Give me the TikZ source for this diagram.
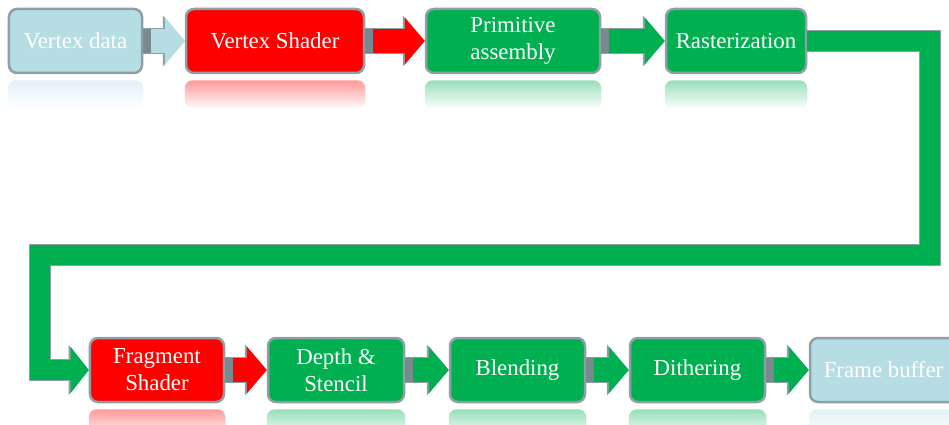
\documentclass[tikz,border=0pt]{standalone}
\usepackage{fontspec}
\setmainfont{Liberation Serif}
\usetikzlibrary{arrows.meta,fadings,positioning}

\definecolor{lblue}{RGB}{183,221,228}
\definecolor{pgreen}{RGB}{0,176,80}
\definecolor{pred}{RGB}{255,0,0}
\definecolor{edge}{RGB}{140,160,165}
\definecolor{shadowgray}{RGB}{120,138,142}

\tikzset{
stage/.style = {draw=edge, line width=0.5mm, rounded corners=1.6mm, text=white, align=center,
  inner sep=0pt, minimum height=12.8mm, font=\fontsize{13}{15.5}\selectfont},
flow/.style = {draw=#1, line width=4.8mm, -{Triangle[length=4mm,width=9.2mm]}},
flowedge/.style = {draw=edge, line width=5.2mm, -{Triangle[length=4.4mm,width=10mm]}},
pipe/.style = {draw=pgreen, line width=4mm, line join=miter, -{Triangle[length=3.6mm,width=9mm]}},
pipeedge/.style = {draw=edge, line width=4.4mm, line join=miter, -{Triangle[length=4mm,width=9.8mm]}},
reflect/.style = {fill=#1, fill opacity=0.4, path fading=south, rounded corners=1.6mm}
}

\begin{document}
\begin{tikzpicture}[x=0.2mm, y=-0.2mm]
    \useasboundingbox (0,0) rectangle (949,425);
    % top row of stages
    \node [stage, fill=lblue, minimum width=26.6mm] (vdata) at (75.5,41) {Vertex data};
    \node [stage, fill=pred, minimum width=35.6mm, right=8.3mm of vdata] (vshader) {Vertex Shader};
    \node [stage, fill=pgreen, minimum width=34.8mm, right=11.9mm of vshader] (prim) {Primitive\\assembly};
    \node [stage, fill=pgreen, minimum width=28mm, right=12.7mm of prim] (ras) {Rasterization};

    % bottom row of stages
    \node [stage, fill=pred, minimum width=26.8mm] (frag) at (157,370) {Fragment\\Shader};
    \node [stage, fill=pgreen, minimum width=27.2mm, right=8.3mm of frag] (depth) {Depth \&\\Stencil};
    \node [stage, fill=pgreen, minimum width=27mm, right=8.7mm of depth] (blend) {Blending};
    \node [stage, fill=pgreen, minimum width=27mm, right=8.5mm of blend] (dither) {Dithering};
    \node [stage, fill=lblue, minimum width=29.4mm, right=8.5mm of dither] (fbuf) {Frame buffer};

    % faded reflections under the stages
    \foreach \n/\c in {vdata/lblue, vshader/pred, prim/pgreen, ras/pgreen,
                       frag/pred, depth/pgreen, blend/pgreen, dither/pgreen, fbuf/lblue}
        \fill [reflect=\c] ([yshift=-1.2mm]\n.south west) rectangle ([yshift=-7mm]\n.south east);

    % block arrows between neighbours
    \foreach \a/\b/\c in {vdata/vshader/lblue, vshader/prim/pred, prim/ras/pgreen,
                          frag/depth/pred, depth/blend/pgreen, blend/dither/pgreen, dither/fbuf/pgreen}{
        \draw [flowedge] (\a.east) -- (\a.east -| \b.west);
        \draw [flow=\c] (\a.east) -- (\a.east -| \b.west);
        \fill [shadowgray] ([yshift=-2.4mm]\a.east) rectangle ([xshift=1.6mm,yshift=2.4mm]\a.east);
    }

    % return path from the top row to the bottom row
    \coordinate (bendR) at (930,255);
    \coordinate (bendL) at (40,255);
    \draw [pipeedge] (ras.east) -| (bendR) -- (bendL) |- (frag.west);
    \draw [pipe] (ras.east) -| (bendR) -- (bendL) |- (frag.west);
\end{tikzpicture}
\end{document}
